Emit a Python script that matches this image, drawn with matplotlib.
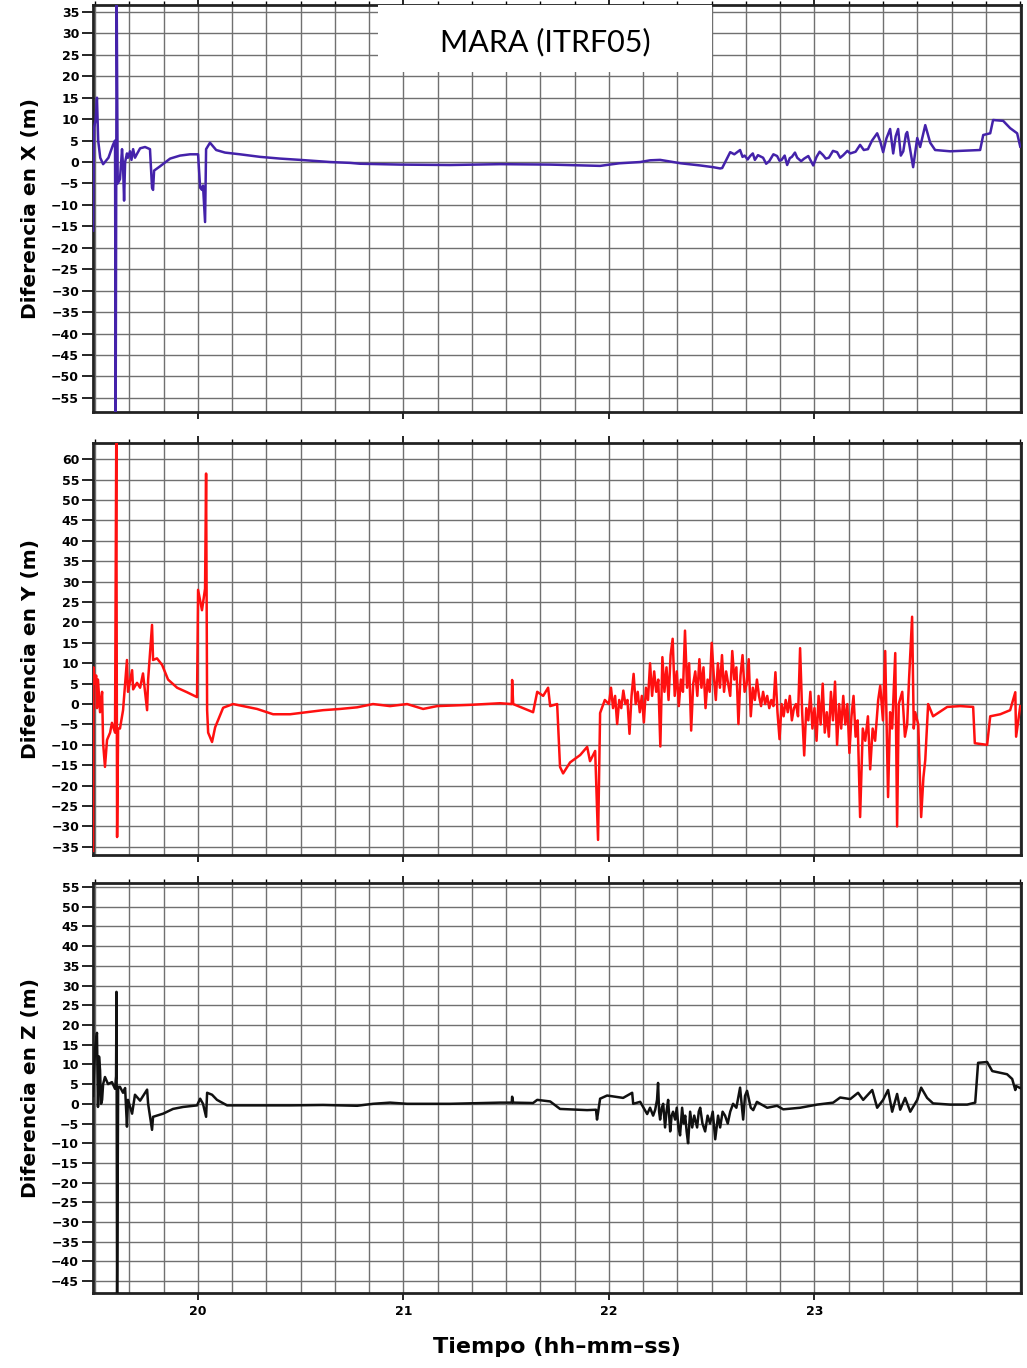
import matplotlib
matplotlib.use('Agg')
import matplotlib.pyplot as plt
from matplotlib.patches import Rectangle
import numpy as np

# Time in decimal hours, differences in metres
tx = [19.490, 19.495, 19.503, 19.509, 19.515, 19.525, 19.539, 19.548, 19.565, 19.587,
      19.597, 19.600, 19.605, 19.610, 19.621, 19.631, 19.636, 19.641, 19.646, 19.655,
      19.660, 19.670, 19.677, 19.685, 19.694, 19.705, 19.719, 19.743, 19.767, 19.777,
      19.782, 19.787, 19.816, 19.865, 19.913, 19.962, 20.001, 20.011, 20.020, 20.025,
      20.035, 20.040, 20.059, 20.089, 20.132, 20.205, 20.254, 20.303, 20.400, 20.497,
      20.643, 20.741, 20.789, 20.984, 21.227, 21.471, 21.714, 21.957, 22.050, 22.152,
      22.200, 22.249, 22.350, 22.444, 22.507, 22.541, 22.551, 22.590, 22.610, 22.638,
      22.650, 22.660, 22.675, 22.687, 22.700, 22.710, 22.725, 22.750, 22.765, 22.780,
      22.800, 22.818, 22.830, 22.840, 22.855, 22.867, 22.880, 22.890, 22.905, 22.916,
      22.935, 22.950, 22.970, 22.994, 23.010, 23.025, 23.042, 23.055, 23.070, 23.090,
      23.110, 23.125, 23.140, 23.160, 23.174, 23.200, 23.222, 23.240, 23.260, 23.280,
      23.305, 23.320, 23.334, 23.350, 23.368, 23.383, 23.395, 23.407, 23.420, 23.432,
      23.445, 23.451, 23.465, 23.480, 23.500, 23.514, 23.539, 23.563, 23.587, 23.660,
      23.758, 23.806, 23.821, 23.855, 23.869, 23.918, 23.952, 23.986, 24.001]
dx = [-16, 8, 10, 15, 5, 1, -0.5, 0, 1, 4,
      5, -59, 38, -5, -4, 3, -1, -9, 0, 2,
      1, 2.5, 0.5, 3, 1, 2, 3.2, 3.5, 3, -6,
      -6.5, -2, -1, 0.8, 1.5, 1.8, 1.8, -6, -6.5, -5.5,
      -14, 3, 4.5, 2.8, 2.2, 1.8, 1.5, 1.2, 0.8, 0.5,
      0, -0.2, -0.4, -0.6, -0.7, -0.5, -0.6, -0.9, -0.3, 0,
      0.4, 0.5, -0.3, -0.8, -1.2, -1.5, -1.4, 2.3, 1.8, 2.8,
      1.2, 1.5, 0.6, 1.4, 2.0, 0.5, 1.6, 1, -0.4, 0.2,
      1.8, 1.4, 0.3, 0.5, 1.5, -0.7, 0.9, 1.2, 2.2, 1,
      0.2, 0.8, 1.4, -0.8, 1.2, 2.4, 1.6, 0.8, 1, 2.6,
      2.3, 1.0, 1.6, 2.6, 2, 2.4, 4, 2.8, 3, 5.0,
      6.7, 4.8, 2.3, 5.5, 7.7, 2, 6, 7.7, 1.5, 2.5,
      6.5, 7, 3, -1.2, 5.6, 3.5, 8.6, 4.5, 2.8, 2.5,
      2.7, 2.8, 6.3, 6.7, 9.8, 9.6, 7.9, 6.7, 3.6]

ty = [19.490, 19.492, 19.500, 19.505, 19.509, 19.514, 19.524, 19.534, 19.539, 19.548,
      19.558, 19.573, 19.582, 19.597, 19.603, 19.607, 19.612, 19.621, 19.636, 19.655,
      19.660, 19.680, 19.685, 19.704, 19.719, 19.733, 19.753, 19.758, 19.777, 19.782,
      19.801, 19.826, 19.855, 19.899, 19.947, 19.996, 20.001, 20.020, 20.035, 20.040,
      20.045, 20.050, 20.069, 20.084, 20.123, 20.171, 20.288, 20.366, 20.449, 20.531,
      20.609, 20.692, 20.775, 20.852, 20.935, 21.018, 21.096, 21.164, 21.324, 21.470,
      21.527, 21.529, 21.534, 21.631, 21.651, 21.680, 21.704, 21.714, 21.748, 21.762,
      21.777, 21.811, 21.860, 21.894, 21.908, 21.933, 21.947, 21.957, 21.980,
      22.00, 22.01, 22.02, 22.03, 22.04, 22.05, 22.06, 22.07, 22.08, 22.09,
      22.10, 22.11, 22.12, 22.13, 22.14, 22.15, 22.16, 22.17, 22.18, 22.19,
      22.20, 22.21, 22.22, 22.23, 22.24, 22.25, 22.26, 22.27, 22.28, 22.29,
      22.30, 22.31, 22.32, 22.33, 22.34, 22.35, 22.36, 22.37, 22.38, 22.39,
      22.40, 22.41, 22.42, 22.43, 22.44, 22.45, 22.46, 22.47, 22.48, 22.49,
      22.50, 22.51, 22.52, 22.53, 22.54, 22.55, 22.56, 22.57, 22.58, 22.59,
      22.60, 22.61, 22.62, 22.63, 22.64, 22.65, 22.66, 22.67, 22.68, 22.69,
      22.70, 22.71, 22.72, 22.73, 22.74, 22.75, 22.76, 22.77, 22.78, 22.79,
      22.80, 22.81, 22.82, 22.83, 22.84, 22.85, 22.86, 22.87, 22.88, 22.89,
      22.90, 22.91, 22.92, 22.93, 22.94, 22.95, 22.96, 22.97, 22.98, 22.99,
      23.00, 23.01, 23.02, 23.03, 23.04, 23.05, 23.06, 23.07, 23.08, 23.09,
      23.10, 23.11, 23.12, 23.13, 23.14, 23.15, 23.16, 23.17, 23.18, 23.19,
      23.20, 23.21, 23.222, 23.235, 23.247, 23.26, 23.271, 23.283, 23.295, 23.31,
      23.320, 23.333, 23.344, 23.358, 23.368, 23.378, 23.393, 23.402, 23.41, 23.427,
      23.44, 23.451, 23.46, 23.475, 23.483, 23.49, 23.505, 23.519, 23.530, 23.539,
      23.553, 23.577, 23.646, 23.709, 23.772, 23.780, 23.840,
      23.855, 23.904, 23.952, 23.977, 23.981, 24.001]
dy = [-36, 9, 5, 7, -1, 6, -2, 3, -9.6, -15.4,
      -8.8, -7, -4.6, -7, 66, -32.6, -6, -6, -1.5, 10.8,
      3, 8.3, 3.6, 5.2, 4, 7.5, -1.5, 6, 19.4, 10.8,
      11.2, 9.6, 6, 4, 2.9, 1.7, 28, 23, 28.3, 56.5,
      -1.5, -7, -9.3, -5.7, -0.9, 0, -1.2, -2.5, -2.5, -2,
      -1.5, -1.2, -0.8, 0, -0.5, 0, -1.2, -0.5, -0.2, 0.2,
      0, 5.9, 0, -2, 3, 2, 4, -0.5, 0, -15.4,
      -17, -14.3, -12.5, -10.5, -14, -11.5, -33.3, -2.2, 1,
      0, 4, -1, 2, -4.9, 1, -1, 3.3, 0, 1,
      -7.3, 2, 7.4, 0, 3, -2, 2, -4.5, 4, 1,
      10, 2, 8, 3, 6, -10.4, 11.5, 3, 9, 1,
      12, 16, 2, 8, -0.5, 6, 3, 18, 4, 10,
      -6.5, 5, 8, 2, 11, 4, 9, -1, 6, 3,
      15, 7, 1, 10, 4, 12, 3, 8, 5, 2,
      13, 6, 9, -4.9, 7, 12, 3, 5, 11, -3,
      4, 1, 6, 2, -0.5, 3, 0, 2, -1, 1,
      -0.5, 7.8, -2, -8.6, 0, -3, 1, -2, 2, -4,
      -1, 0, -3, 13.7, -2, -12.6, -1, -4, 3, -6,
      -1, -9, 2, -5, 5, -7, -2, -8, 3, -4,
      5.5, -10, 0, -6, 2, -5, 0, -12, -3, 2,
      -8, -4, -27.7, -6, -9, -3, -16, -6, -9, 1,
      4.5, -4, 13, -22.8, -2, -6, 12.5, -30, 0, 3,
      -8, -5, 6, 21.4, -6, -2, -5, -27.7, -18, -13.7,
      0, -3, -0.7, -0.5, -0.7, -9.6, -10,
      -3, -2.5, -1.5, 2.9, -8, -0.5]

tz = [19.490, 19.500, 19.509, 19.514, 19.519, 19.524, 19.529, 19.534, 19.539, 19.548,
      19.563, 19.582, 19.597, 19.602, 19.604, 19.607, 19.612, 19.621, 19.636, 19.646,
      19.655, 19.660, 19.680, 19.694, 19.719, 19.753, 19.758, 19.777, 19.782, 19.831,
      19.879, 19.928, 19.996, 20.011, 20.025, 20.040, 20.045, 20.069, 20.093, 20.142,
      20.288, 20.449, 20.609, 20.775, 20.852, 20.935, 21.018, 21.096, 21.227, 21.470,
      21.527, 21.529, 21.534, 21.631, 21.651, 21.714, 21.762, 21.894, 21.937, 21.942,
      21.957, 21.991, 22.069, 22.113, 22.118, 22.152, 22.186, 22.200, 22.215, 22.225,
      22.234, 22.239, 22.244, 22.249, 22.257, 22.264, 22.273, 22.280, 22.288, 22.298,
      22.305, 22.312, 22.322, 22.330, 22.338, 22.346, 22.356, 22.364, 22.371, 22.378,
      22.385, 22.395, 22.405, 22.415, 22.429, 22.437, 22.444, 22.455, 22.468, 22.480,
      22.492, 22.505, 22.517, 22.531, 22.541, 22.553, 22.565, 22.578, 22.590, 22.604,
      22.620, 22.638, 22.653, 22.662, 22.672, 22.690, 22.702, 22.720, 22.736, 22.770,
      22.818, 22.848, 22.930, 23.013, 23.091, 23.125, 23.174, 23.212, 23.237, 23.281,
      23.305, 23.334, 23.358, 23.378, 23.402, 23.417, 23.441, 23.466, 23.500, 23.519,
      23.548, 23.577, 23.660, 23.743, 23.782, 23.796, 23.840, 23.865, 23.937, 23.962,
      23.977, 23.981, 24.001]
dz = [2, 14, 18, -0.8, 12, 8.6, 0, 1, 5, 6.8,
      5, 5.5, 3.8, 7, 28.4, -50, 4.3, 4.3, 2.8, 4,
      -5.8, 1, -2.5, 2.3, 0.8, 3.6, 0, -6.6, -3.3, -2.5,
      -1.3, -0.8, -0.4, 1.3, 0, -3.3, 2.8, 2.3, 1, -0.4,
      -0.4, -0.4, -0.3, -0.5, 0, 0.3, 0, 0, 0, 0.3,
      0.3, 1.8, 0.3, 0.2, 1, 0.6, -1.3, -1.6, -1.5, -4,
      1.3, 2.1, 1.5, 2.8, 0, 0.5, -2.6, -1, -3, -1.5,
      1, 5.3, -2, -4, -1, 0, -6, -2, 1, -7,
      -3, -2, -4, -1, -6, -8, -1, -5, -3, -7,
      -10, -2, -6, -3, -6, -2, -1, -5, -7, -3,
      -5, -2, -9, -3, -6, -2, -3, -5, -2, 0,
      -1, 4.1, -4, 2, 3.3, -1, -1.6, 0.5, 0, -1,
      -0.5, -1.4, -1, -0.2, 0.3, 1.6, 1.2, 2.8, 1, 3.5,
      -1, 1, 3.5, -2, 2.5, -1.5, 1.5, -2, 1, 4.1,
      1.5, 0.1, -0.2, -0.2, 0.3, 10.4, 10.6, 8.3, 7.5, 6.3,
      3.5, 4.5, 4]

panels = [
    (tx, dx, '#4422aa', 'Diferencia en X (m)', (-58.3, 36.6), np.arange(35, -56, -5)),
    (ty, dy, '#ff1010', 'Diferencia en Y (m)', (-37, 64), np.arange(60, -36, -5)),
    (tz, dz, '#111111', 'Diferencia en Z (m)', (-48, 56), np.arange(55, -46, -5)),
]
hour_ticks = [20, 21, 22, 23]
minor_ticks = np.arange(19 + 3/6, 24.01, 1/6)

fig = plt.figure(figsize=(10.27, 13.68), dpi=100)
boxes = [(0.0906, 0.6988, 0.9036, 0.2975),
         (0.0906, 0.3750, 0.9036, 0.3012),
         (0.0906, 0.0548, 0.9036, 0.2997)]

axes = []
for (t, d, col, ylab, ylim, yt), box in zip(panels, boxes):
    ax = fig.add_axes(box)
    ax.plot(t, d, color=col, lw=1.8, zorder=3)
    ax.set_xlim(19.49, 24.005)
    ax.set_ylim(*ylim)
    ax.set_xticks(hour_ticks)
    ax.set_xticks(minor_ticks, minor=True)
    ax.set_yticks(yt, [str(v).replace('-', '\u2212') for v in yt],
                  fontweight='bold', fontsize=9)
    ax.grid(True, which='both', color='#707070', lw=1.0, zorder=1)
    ax.set_axisbelow(True)
    ax.tick_params(axis='x', which='major', direction='out', length=5, width=1.2,
                   top=True, bottom=True, labelsize=9)
    ax.tick_params(axis='x', which='minor', direction='out', length=3, width=1.0,
                   top=True, bottom=False)
    ax.tick_params(axis='y', direction='out', length=8, width=1.2, pad=2)
    for s in ax.spines.values():
        s.set_linewidth(2.0)
        s.set_color('#222222')
    ax.set_ylabel(ylab, fontsize=14.5, fontweight='bold', labelpad=8)
    axes.append(ax)

for ax in axes[:2]:
    plt.setp(ax.get_xticklabels(), visible=False)
for lbl in axes[2].get_xticklabels():
    lbl.set_fontweight('bold')
axes[2].set_xlabel('Tiempo (hh\u2013mm\u2013ss)', fontsize=16, fontweight='bold', labelpad=14)

# Title box in the top panel
ax1 = axes[0]
ax1.add_patch(Rectangle((0.307, 0.835), 0.36, 0.165, transform=ax1.transAxes,
                        facecolor='white', edgecolor='none', zorder=4))
ax1.text(0.487, 0.908, 'MARA (ITRF05)', transform=ax1.transAxes, ha='center',
         va='center', fontsize=22, family='Lato', zorder=5)

fig.savefig('out.png', dpi=100)
